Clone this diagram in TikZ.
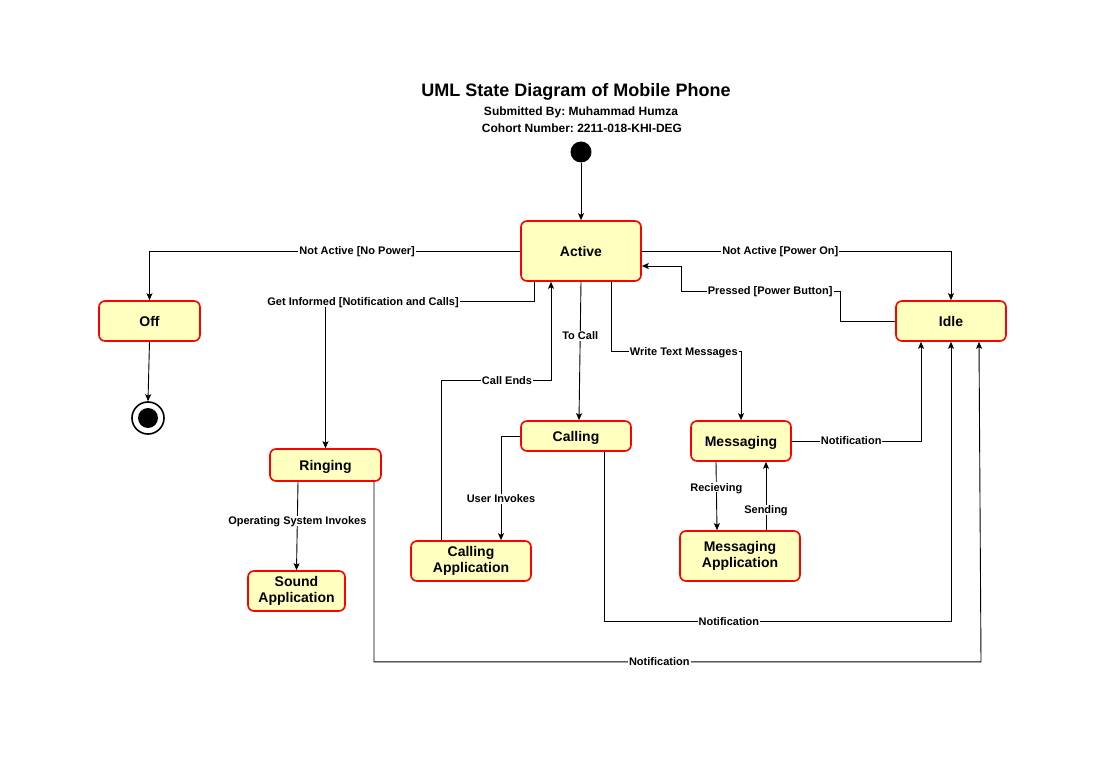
\documentclass[tikz,border=0pt]{standalone}
\usepackage{fontspec}
\setmainfont{Liberation Sans}
\frenchspacing
\usetikzlibrary{arrows.meta,calc}
\definecolor{statefill}{HTML}{FFFFC0}
\definecolor{stateline}{HTML}{FF0000}
\begin{document}
\begin{tikzpicture}[x=1pt,y=-1pt,
  state/.style={draw=stateline,fill=statefill,line width=1.6pt,rounded corners=6pt,
    align=center,inner sep=0pt,font=\bfseries\fontsize{14}{16}\selectfont},
  oneline/.style={text depth=0pt},
  arr/.style={draw=black,line width=0.9pt,-{Stealth[length=7pt,width=6pt,inset=1.5pt]}},
  lbl/.style={fill=white,inner sep=1pt,text depth=0pt,font=\bfseries\fontsize{11}{12}\selectfont}]
\useasboundingbox[fill=white] (0,0) rectangle (1112,762);

% titles
\node[font=\bfseries\fontsize{18}{20}\selectfont] (title) at (576,92) {UML State Diagram of Mobile Phone};
\node[font=\bfseries\fontsize{12}{13}\selectfont] (sub1) at (581,112) {Submitted By: Muhammad Humza};
\node[font=\bfseries\fontsize{12}{13}\selectfont] (sub2) at (582,128) {Cohort Number: 2211-018-KHI-DEG};

% pseudo states
\node[circle,fill=black,minimum size=21pt,inner sep=0pt] (Init) at (581,152) {};
\node[circle,draw=black,line width=1.6pt,fill=white,minimum size=32pt,inner sep=0pt] (Final) at (148,418) {};
\fill[black] (Final.center) circle[radius=10pt];

% states
\node[state,oneline,minimum width=120pt,minimum height=60pt] (Active) at (581,251) {Active};
\node[state,oneline,minimum width=101pt,minimum height=40pt] (Off) at (149.5,321) {Off};
\node[state,oneline,minimum width=110pt,minimum height=40pt] (Idle) at (951,321) {Idle};
\node[state,oneline,minimum width=111pt,minimum height=32pt] (Ringing) at (325.5,465) {Ringing};
\node[state,minimum width=97pt,minimum height=40pt] (SoundApp) at (296.5,591) {Sound\\Application};
\node[state,oneline,minimum width=110pt,minimum height=30pt] (Calling) at (576,436) {Calling};
\node[state,minimum width=120pt,minimum height=40pt] (CallApp) at (471,561) {Calling\\Application};
\node[state,oneline,minimum width=100pt,minimum height=40pt] (Messaging) at (741,441) {Messaging};
\node[state,minimum width=120pt,minimum height=50pt] (MsgApp) at (740,556) {Messaging\\Application};

% transitions
\draw[arr] (Init) -- (Active.north);
\draw[arr] (Active.west) -| node[lbl,pos=0.22]{Not Active [No Power]} (Off.north);
\draw[arr] (Active.east) -| node[lbl,pos=0.224]{Not Active [Power On]} (Idle.north);
\draw[arr] (Idle.west) -- ++(-55,0) |- node[lbl,pos=0.72]{Pressed [Power Button]} (681,291)
  |- ([yshift=-15pt]Active.east);
\draw[arr] ([xshift=-47pt]Active.south) -- ++(0,20)
  -| node[lbl,pos=0.41]{Get Informed [Notification and Calls]} (Ringing.north);
\draw[arr] (Active.south) -- node[lbl,pos=0.39]{To Call} ([xshift=3pt]Calling.north);
\draw[arr] ([xshift=30pt]Active.south) -- ++(0,70)
  -| node[lbl,pos=0.28]{Write Text Messages} (Messaging.north);
\draw[arr] ([xshift=-30pt]CallApp.north) -- ++(0,-160)
  -| node[lbl,pos=0.3]{Call Ends} ([xshift=-30pt]Active.south);
\draw[arr] (Calling.west) -| node[lbl,pos=0.8]{User Invokes} ([xshift=30pt]CallApp.north);
\draw[arr] ([xshift=-25pt]Messaging.south) -- node[lbl,pos=0.37]{Recieving} ([xshift=-23pt]MsgApp.north);
\draw[arr] ([xshift=26pt]MsgApp.north) -- node[lbl,pos=0.3]{Sending} ([xshift=25pt]Messaging.south);
\draw[arr] (Messaging.east) -| node[lbl,pos=0.23]{Notification} ([xshift=-30pt]Idle.south);
\draw[arr] ([xshift=28pt]Calling.south) -- ++(0,170)
  -| node[lbl,pos=0.18]{Notification} (Idle.south);
\draw[arr] ([xshift=48.5pt]Ringing.south) -- ++(0,180)
  -- node[lbl,pos=0.47]{Notification} ++(607,0) -- ([xshift=28pt]Idle.south);
\draw[arr] ([xshift=-27.5pt]Ringing.south) -- node[lbl,pos=0.44]{Operating System Invokes} (SoundApp.north);
\draw[arr] (Off.south) -- (Final.north);
\end{tikzpicture}
\end{document}
